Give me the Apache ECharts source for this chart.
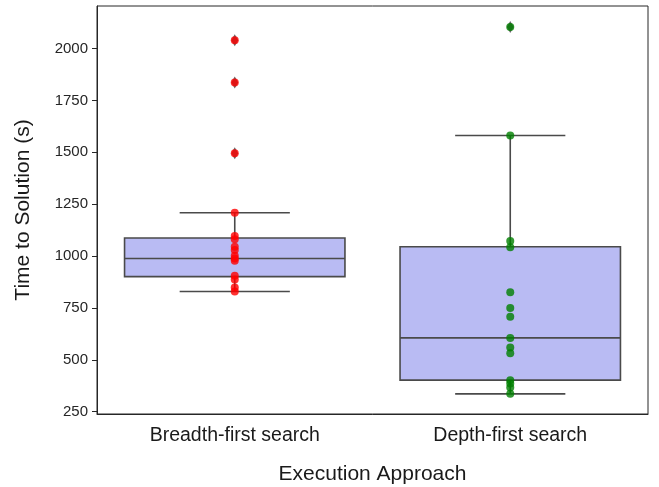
<!DOCTYPE html>
<html>
<head>
<meta charset="utf-8">
<script src="https://cdn.jsdelivr.net/npm/echarts@6/dist/echarts.min.js"></script>
<style>
html,body{margin:0;padding:0;background:#fff;}
#chart{width:659px;height:487px;}
</style>
</head>
<body>
<div id="chart"></div>
<script>
const categories = ['Breadth-first search', 'Depth-first search'];
const bfsTimes = [2040, 1836, 1495, 1209, 1097, 1081, 1045, 1029, 1002, 988, 978, 905, 887, 848, 829];
const dfsTimes = [2104, 1581, 1073, 1042, 826, 750, 708, 605, 559, 532, 402, 386, 367, 336];
// [lower whisker, Q1, median, Q3, upper whisker]
const boxStats = [[829, 901, 988, 1087, 1209], [336, 402, 606, 1045, 1581]];
const outliers = [[2040, 1836, 1495], [2104]];
const yTicks = [250, 500, 750, 1000, 1250, 1500, 1750, 2000];

const FONT = '"Liberation Sans", Arial, Helvetica, sans-serif';
const chart = echarts.init(document.getElementById('chart'));

const boxData = boxStats.map((s, i) => [i].concat(s));
const outlierData = [];
outliers.forEach((arr, i) => arr.forEach(v => outlierData.push([i, v])));

chart.setOption({
  animation: false,
  backgroundColor: '#fff',
  grid: { left: 97, right: 11, top: 6, bottom: 73, show: true, borderColor: '#262626', borderWidth: 1, backgroundColor: 'transparent', outerBoundsMode: 'none', containLabel: false },
  xAxis: {
    type: 'category',
    data: categories,
    name: 'Execution Approach',
    nameLocation: 'middle',
    nameGap: 50,
    nameTextStyle: { fontFamily: FONT, fontSize: 21, color: '#1a1a1a' },
    axisLine: { lineStyle: { color: '#262626', width: 1 } },
    axisTick: { alignWithLabel: true, length: 5, lineStyle: { color: '#262626' } },
    axisLabel: { fontFamily: FONT, fontSize: 19.5, color: '#1a1a1a', margin: 12 },
    splitLine: { show: false }
  },
  yAxis: {
    type: 'value',
    min: 239,
    max: 2205,
    name: 'Time to Solution (s)',
    nameLocation: 'middle',
    nameGap: 63,
    nameTextStyle: { fontFamily: FONT, fontSize: 21, color: '#1a1a1a' },
    axisLine: { show: true, lineStyle: { color: '#262626', width: 1 } },
    axisTick: { show: true, length: 5, customValues: yTicks, lineStyle: { color: '#262626' } },
    axisLabel: { fontFamily: FONT, fontSize: 15, color: '#262626', margin: 9, customValues: yTicks, formatter: v => String(v) },
    splitLine: { show: false }
  },
  series: [
    {
      type: 'custom',
      data: boxData,
      encode: { x: 0, y: [1, 2, 3, 4, 5] },
      renderItem: function (params, api) {
        const i = api.value(0);
        const band = api.size([1, 0])[0];
        const w = band * 0.8;
        const cx = api.coord([i, api.value(3)])[0];
        const y = k => api.coord([i, api.value(k)])[1];
        const lineStyle = { stroke: '#4a4a4a', lineWidth: 1.6 };
        return {
          type: 'group',
          children: [
            { type: 'line', shape: { x1: cx, y1: y(1), x2: cx, y2: y(2) }, style: lineStyle },
            { type: 'line', shape: { x1: cx, y1: y(4), x2: cx, y2: y(5) }, style: lineStyle },
            { type: 'line', shape: { x1: cx - w / 4, y1: y(1), x2: cx + w / 4, y2: y(1) }, style: lineStyle },
            { type: 'line', shape: { x1: cx - w / 4, y1: y(5), x2: cx + w / 4, y2: y(5) }, style: lineStyle },
            { type: 'rect', shape: { x: cx - w / 2, y: y(4), width: w, height: y(2) - y(4) }, style: { fill: '#b9bbf3', stroke: '#4a4a4a', lineWidth: 1.6 } },
            { type: 'line', shape: { x1: cx - w / 2, y1: y(3), x2: cx + w / 2, y2: y(3) }, style: lineStyle }
          ]
        };
      }
    },
    {
      type: 'scatter',
      data: outlierData,
      symbol: 'diamond',
      symbolSize: [7, 12],
      itemStyle: { color: '#3d3d3d' }
    },
    {
      type: 'scatter',
      data: bfsTimes.map(v => [0, v]),
      symbolSize: 8,
      itemStyle: { color: '#ff0000' }
    },
    {
      type: 'scatter',
      data: dfsTimes.map(v => [1, v]),
      symbolSize: 8,
      itemStyle: { color: '#008000' }
    }
  ]
});
</script>
</body>
</html>
